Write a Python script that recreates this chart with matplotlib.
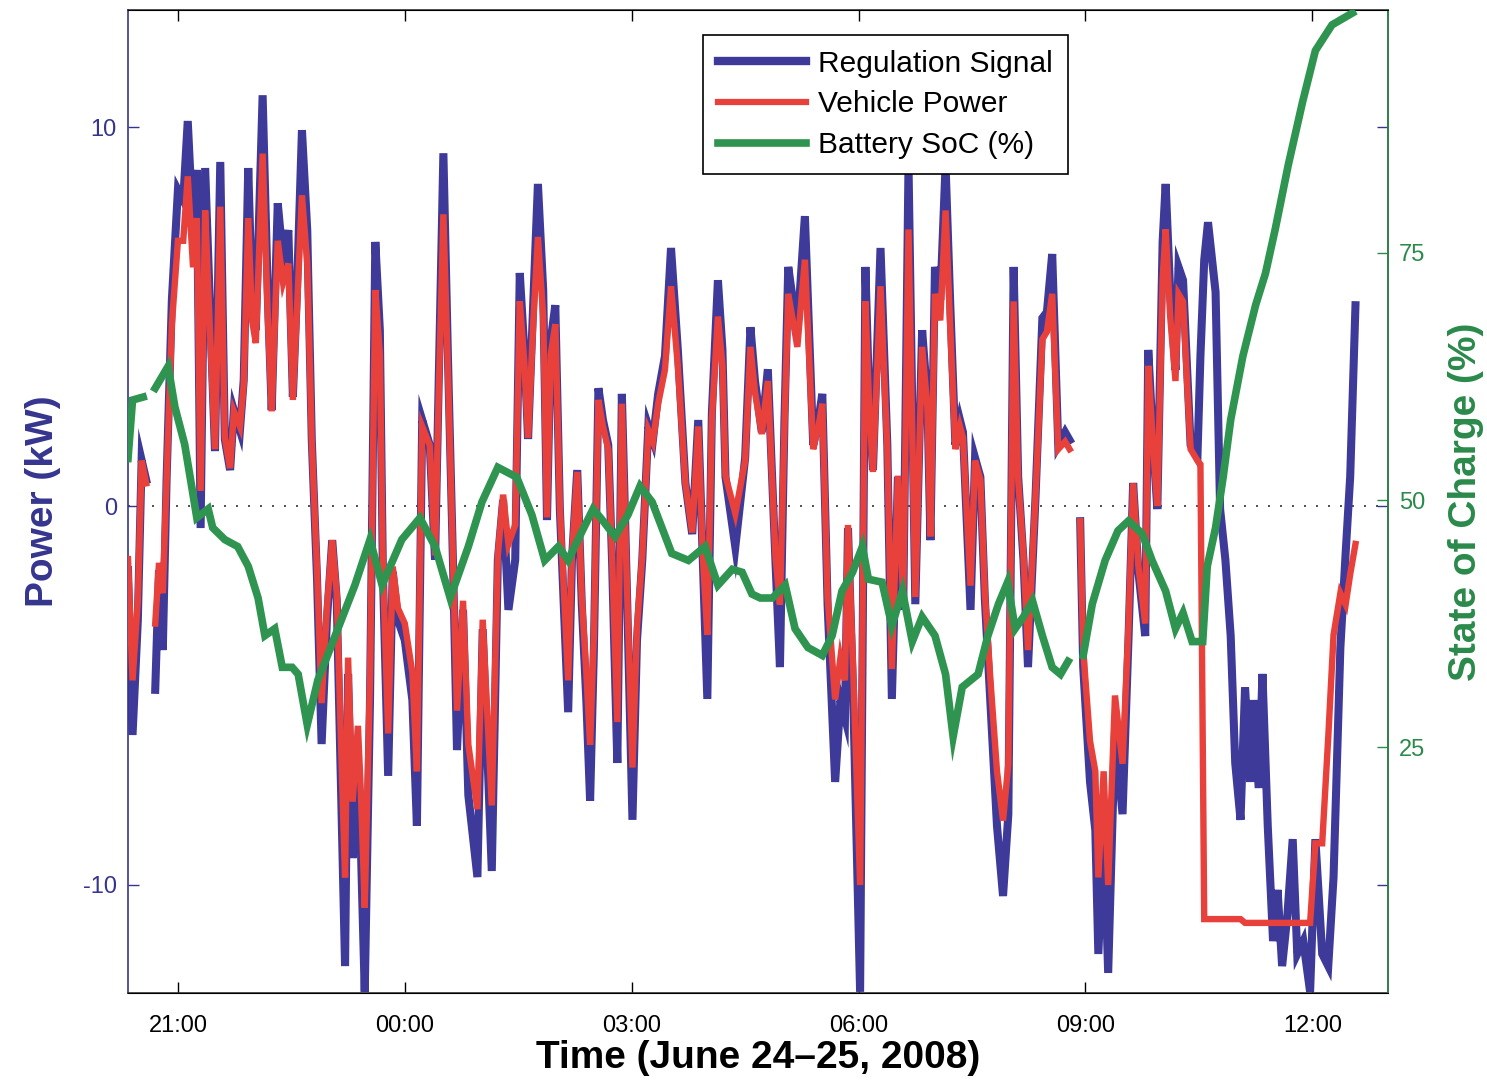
import numpy as np
import matplotlib
matplotlib.use("Agg")
import matplotlib.pyplot as plt
from matplotlib.lines import Line2D

nan = float("nan")

# ---- data (hours after midnight June 24; 24 = 00:00 June 25) ----
time_h = [
    20.34, 20.40, 20.47, 20.52, 20.58, 20.63, 20.70, 20.75, 20.80, 20.85,
    20.92, 21.00, 21.07, 21.13, 21.20, 21.25, 21.30, 21.36, 21.42, 21.49,
    21.56, 21.62, 21.69, 21.74, 21.82, 21.87, 21.93, 21.98, 22.03, 22.12,
    22.19, 22.24, 22.32, 22.39, 22.46, 22.52, 22.57, 22.64, 22.71, 22.77,
    22.84, 22.90, 22.97, 23.04, 23.10, 23.16, 23.21, 23.25, 23.31, 23.38,
    23.42, 23.47, 23.54, 23.61, 23.67, 23.71, 23.78, 23.84, 23.91, 24.00,
    24.10, 24.16, 24.23, 24.33, 24.40, 24.44, 24.51, 24.57, 24.64, 24.69,
    24.77, 24.84, 24.96, 25.03, 25.15, 25.23, 25.30, 25.37, 25.46, 25.52,
    25.58, 25.63, 25.70, 25.76, 25.83, 25.88, 25.93, 25.99, 26.05, 26.16,
    26.21, 26.28, 26.34, 26.40, 26.45, 26.50, 26.56, 26.62, 26.69, 26.74,
    26.81, 26.87, 26.94, 27.01, 27.07, 27.14, 27.22, 27.28, 27.35, 27.44,
    27.52, 27.61, 27.71, 27.80, 27.88, 27.94, 28.00, 28.06, 28.14, 28.20,
    28.24, 28.37, 28.50, 28.57, 28.63, 28.72, 28.80, 28.90, 28.96, 29.02,
    29.07, 29.13, 29.19, 29.29, 29.40, 29.47, 29.52, 29.59, 29.69, 29.76,
    29.82, 29.86, 29.93, 30.02, 30.09, 30.14, 30.19, 30.29, 30.38, 30.44,
    30.52, 30.59, 30.66, 30.75, 30.84, 30.91, 30.95, 31.01, 31.08, 31.15,
    31.21, 31.28, 31.34, 31.38, 31.48, 31.54, 31.61, 31.67, 31.74, 31.83,
    31.91, 31.98, 32.05, 32.11, 32.18, 32.24, 32.34, 32.43, 32.49, 32.56,
    32.64, 32.73, 32.79, 32.86, 32.93, 32.97, 33.06, 33.13, 33.17, 33.24,
    33.30, 33.39, 33.49, 33.57, 33.63, 33.70, 33.79, 33.83, 33.90, 33.95,
    34.02, 34.06, 34.12, 34.19, 34.23, 34.29, 34.35, 34.39, 34.48, 34.52,
    34.57, 34.62, 34.72, 34.78, 34.85, 34.92, 34.98, 35.05, 35.11, 35.18,
    35.22, 35.29, 35.34, 35.41, 35.48, 35.54, 35.60, 35.67, 35.74, 35.80,
    35.88, 35.97, 36.04, 36.13, 36.21, 36.28, 36.37, 36.44, 36.50, 36.57,
]

regulation_kw = [
    -1.69, -6.04, -3.01, 1.21, 0.69, nan, -4.85, -1.69, -3.80, 0.69,
    5.44, 8.34, 8.07, 10.16, 7.28, 8.87, -0.58, 8.92, 5.44, 1.45,
    9.08, 1.77, 0.95, 2.53, 2.00, 3.32, 8.92, 5.44, 4.64, 10.84,
    5.44, 2.53, 7.99, 6.49, 7.28, 2.88, 5.44, 9.92, 7.28, 1.74,
    -1.95, -6.28, -3.01, -0.90, -2.48, -7.76, -12.14, -4.43, -9.29, -6.78,
    -9.08, -12.82, -5.12, 6.97, 4.64, -1.74, -7.12, -1.74, -3.01, -3.54,
    -5.12, -8.44, 2.27, 1.61, -1.42, 2.45, 9.31, 3.96, -1.74, -6.44,
    -2.74, -7.63, -9.79, -3.25, -9.63, -1.42, 0.16, -2.74, -1.42, 6.15,
    4.12, 1.77, 5.44, 8.50, 5.70, -0.37, 4.38, 5.30, -0.08, -5.44,
    -1.42, 0.95, -2.59, -5.12, -7.78, -3.80, 3.11, 2.27, 1.61, -1.42,
    -6.78, 2.96, -2.48, -8.28, -3.54, -1.42, 2.11, 1.74, 2.96, 3.96,
    6.81, 4.12, 0.61, -0.74, 2.27, -1.42, -5.09, 2.45, 5.96, 4.12,
    0.77, -1.08, 1.27, 4.72, 3.30, 1.95, 3.61, -1.42, -4.25, 2.27,
    6.31, 5.44, 4.64, 7.65, 1.61, 2.27, 2.96, -2.59, -7.28, -5.12,
    -5.59, -0.58, -5.12, -12.82, 6.31, 2.80, 0.95, 6.81, 1.61, -5.09,
    0.77, -2.74, 9.00, -2.59, 4.64, 2.80, -0.90, 6.31, 5.44, 9.00,
    5.44, 1.61, 2.27, 1.95, -2.74, 1.27, 0.77, -2.48, -5.09, -8.44,
    -10.29, -8.13, 6.31, 0.77, -1.42, -4.25, 0.26, 4.96, 5.12, 6.65,
    1.61, 1.95, 1.74, nan, -0.40, -4.25, -7.28, -8.55, -11.82, -8.44,
    -12.32, -5.94, -8.13, -3.43, 0.61, -1.74, -3.43, 4.12, 1.48, -0.08,
    6.97, 8.50, 5.65, 3.59, 6.31, 5.96, 3.32, 1.61, 1.27, 3.96,
    6.49, 7.49, 5.65, -0.08, -1.42, -3.43, -6.78, -8.28, -4.78, -7.28,
    -5.12, -7.44, -4.43, -8.44, -11.48, -10.13, -12.14, -10.79, -8.79, -11.82,
    -11.48, -12.82, -8.79, -11.82, -12.14, -9.79, -3.75, -1.24, 0.77, 5.30,
]

vehicle_kw = [
    -1.4, -4.6, -2.5, 1.2, 0.6, nan, -3.1, -1.5, -2.3, 0.7,
    4.8, 7.0, 7.0, 8.7, 6.3, 7.6, 0.4, 7.8, 4.8, 1.5,
    7.9, 1.8, 1.0, 2.5, 2.1, 3.2, 7.6, 4.9, 4.3, 9.3,
    4.9, 2.5, 7.0, 5.9, 6.4, 2.8, 5.0, 8.2, 6.4, 1.7,
    -1.7, -5.2, -2.7, -0.9, -2.3, -6.5, -9.8, -4.0, -7.8, -5.8,
    -7.6, -10.6, -4.5, 5.7, 4.0, -1.6, -6.0, -1.6, -2.7, -3.1,
    -4.4, -7.0, 2.1, 1.6, -1.3, 2.3, 7.7, 3.6, -1.6, -5.4,
    -2.5, -6.3, -8.0, -3.0, -7.9, -1.3, 0.3, -1.0, -0.5, 5.4,
    3.8, 1.8, 4.9, 7.1, 5.0, -0.3, 4.0, 4.8, 0.0, -4.6,
    -1.3, 0.9, -2.4, -4.4, -6.3, -3.4, 2.8, 2.1, 1.5, -1.3,
    -5.7, 2.7, -2.3, -6.9, -3.2, -1.3, 2.0, 1.7, 2.7, 3.6,
    5.8, 3.7, 0.6, -0.7, 2.1, -1.3, -3.4, 2.3, 5.0, 3.7,
    0.8, -0.2, 1.2, 4.2, 3.0, 1.9, 3.3, -1.3, -2.6, 2.1,
    5.6, 4.9, 4.2, 6.5, 1.5, 2.1, 2.7, -2.4, -5.1, -4.0,
    -4.6, -0.5, -4.4, -10.0, 5.4, 2.6, 0.9, 5.8, 1.5, -4.3,
    0.8, -2.5, 7.3, -2.4, 4.2, 2.6, -0.8, 5.6, 4.9, 7.8,
    4.8, 1.5, 2.1, 1.8, -2.1, 1.2, 0.7, -2.3, -4.5, -7.0,
    -8.3, -6.8, 5.4, 0.7, -1.3, -3.8, 0.3, 4.4, 4.6, 5.6,
    1.5, 1.7, 1.5, nan, -0.4, -3.8, -6.2, -7.0, -9.8, -7.0,
    -10.0, -5.0, -6.8, -3.1, 0.6, -1.6, -3.1, 3.7, 1.4, 0.0,
    6.0, 7.3, 5.0, 3.3, 5.6, 5.4, 3.0, 1.5, 1.2, 1.1,
    -10.9, -10.9, -10.9, -10.9, -10.9, -10.9, -10.9, -10.9, -11.0, -11.0,
    -11.0, -11.0, -11.0, -11.0, -11.0, -11.0, -11.0, -11.0, -11.0, -11.0,
    -11.0, -11.0, -8.9, -8.9, -6.1, -3.4, -2.3, -2.6, -1.8, -1.0,
]

soc_time_h = [
    20.34, 20.40, 20.54, 20.62, 20.70, 20.87, 20.96, 21.09, 21.19, 21.25,
    21.40, 21.46, 21.62, 21.79, 21.93, 22.06, 22.15, 22.28, 22.38, 22.51,
    22.59, 22.71, 22.85, 23.08, 23.34, 23.54, 23.70, 23.96, 24.20, 24.40,
    24.60, 24.84, 25.02, 25.23, 25.48, 25.68, 25.85, 26.03, 26.16, 26.29,
    26.49, 26.62, 26.78, 26.95, 27.11, 27.27, 27.40, 27.53, 27.75, 27.97,
    28.14, 28.33, 28.46, 28.59, 28.70, 28.86, 29.03, 29.16, 29.33, 29.52,
    29.65, 29.78, 29.92, 30.05, 30.13, 30.31, 30.44, 30.58, 30.71, 30.84,
    31.01, 31.15, 31.25, 31.37, 31.58, 31.71, 31.85, 31.97, 32.07, 32.18,
    32.30, 32.43, 32.56, 32.67, 32.77, 32.86, 32.97, 33.09, 33.26, 33.43,
    33.57, 33.75, 33.88, 34.06, 34.19, 34.29, 34.41, 34.55, 34.61, 34.72,
    34.82, 34.92, 35.08, 35.25, 35.38, 35.51, 35.68, 35.87, 36.04, 36.26,
    36.53,
]

soc_pct = [
    54.2, 60.1, 60.4, nan, 61.3, 63.5, 59.4, 55.6, 51.0, 48.2,
    49.1, 47.2, 46.0, 45.3, 43.3, 40.1, 36.3, 37.0, 33.1, 33.1,
    32.4, 27.3, 31.8, 36.3, 41.4, 46.0, 41.4, 46.0, 48.2, 45.3,
    40.1, 45.3, 49.8, 53.3, 52.3, 48.5, 43.9, 45.3, 43.9, 46.0,
    49.1, 47.9, 46.3, 48.5, 51.4, 49.8, 47.2, 44.6, 43.9, 45.3,
    41.4, 43.0, 42.7, 40.5, 40.1, 40.1, 41.4, 37.0, 35.1, 34.3,
    36.3, 40.8, 42.7, 45.3, 42.0, 41.7, 37.3, 40.8, 35.7, 38.2,
    36.3, 32.4, 26.1, 31.1, 32.4, 36.3, 39.5, 41.7, 37.0, 38.2,
    39.8, 36.3, 33.1, 32.4, 33.7, nan, 34.3, 39.5, 43.9, 46.9,
    47.9, 46.6, 43.9, 40.8, 37.0, 38.6, 35.7, 35.7, 43.3, 47.2,
    52.3, 58.1, 64.5, 69.7, 72.9, 77.4, 83.8, 90.2, 95.4, 98.0,
    99.2,
]

xtick_pos = [21, 24, 27, 30, 33, 36]
xtick_labels = ["21:00", "00:00", "03:00", "06:00", "09:00", "12:00"]
left_ticks = [-10, 0, 10]
right_ticks = [25, 50, 75]
series_labels = ["Regulation Signal", "Vehicle Power", "Battery SoC (%)"]

# ---- style ----
C_BLUE = "#3d3a9a"
C_RED = "#e8413b"
C_GREEN = "#2e9450"
C_BLUE_TXT = "#35358f"
C_GREEN_TXT = "#2a8a4a"

plt.rcParams["font.family"] = ["Liberation Sans", "DejaVu Sans"]
plt.rcParams["axes.unicode_minus"] = False

W, H = 1487, 1087
fig = plt.figure(figsize=(W / 100, H / 100), dpi=100)
ax1 = fig.add_axes([128 / W, 1 - 993 / H, (1388 - 128) / W, (993 - 10) / H])
ax2 = ax1.twinx()

ax1.plot(time_h, regulation_kw, color=C_BLUE, lw=5.8, solid_joinstyle="miter", zorder=2)
ax1.plot(time_h, vehicle_kw, color=C_RED, lw=4.6, solid_joinstyle="miter", zorder=3)
ax1.axhline(0, color="#333333", lw=1.2, ls=(0, (1.2, 6)), zorder=1)
ax2.plot(soc_time_h, soc_pct, color=C_GREEN, lw=5.5, solid_joinstyle="miter", zorder=4)

ax1.set_xlim(20.34, 37.0)
ax1.set_ylim(-12.85, 13.09)
ax2.set_ylim(0.2, 99.5)

ax1.set_xticks(xtick_pos)
ax1.set_xticklabels(xtick_labels)
ax1.set_yticks(left_ticks)
ax2.set_yticks(right_ticks)

ax1.tick_params(axis="x", direction="in", length=8, width=1, top=True,
                labelsize=17, pad=16, colors="black")
ax1.tick_params(axis="y", direction="in", length=8, width=1, right=True,
                labelsize=17, pad=8, colors=C_BLUE_TXT)
ax2.tick_params(axis="y", direction="in", length=8, width=1,
                labelsize=17, pad=8, colors=C_GREEN_TXT)

for sp in ax1.spines.values():
    sp.set_linewidth(1.2)
    sp.set_color("#333333")
ax1.spines["left"].set_color(C_BLUE_TXT)
ax2.spines["right"].set_color(C_GREEN_TXT)
ax2.spines["right"].set_linewidth(1.2)
ax2.spines["left"].set_visible(False)

ax1.set_xlabel("Time (June 24\u201325, 2008)", fontsize=28, fontweight="bold", labelpad=2)
ax1.set_ylabel("Power (kW)", fontsize=28, fontweight="bold", color=C_BLUE_TXT, labelpad=16)
ax2.set_ylabel("State of Charge (%)", fontsize=28, fontweight="bold", color=C_GREEN_TXT, labelpad=16)

handles = [Line2D([], [], color=C_BLUE, lw=6),
           Line2D([], [], color=C_RED, lw=4.5),
           Line2D([], [], color=C_GREEN, lw=5.5)]
leg = ax2.legend(handles, series_labels, loc="upper left",
                 bbox_to_anchor=(703 / W, 1 - 35 / H), bbox_transform=fig.transFigure,
                 fontsize=21.5, frameon=True, fancybox=False, edgecolor="black",
                 framealpha=1, borderpad=0.5, borderaxespad=0, handlelength=2.95,
                 handletextpad=0.4, labelspacing=0.42)
leg.get_frame().set_linewidth(1.2)
leg.set_zorder(10)

fig.savefig("out.png", dpi=100)
